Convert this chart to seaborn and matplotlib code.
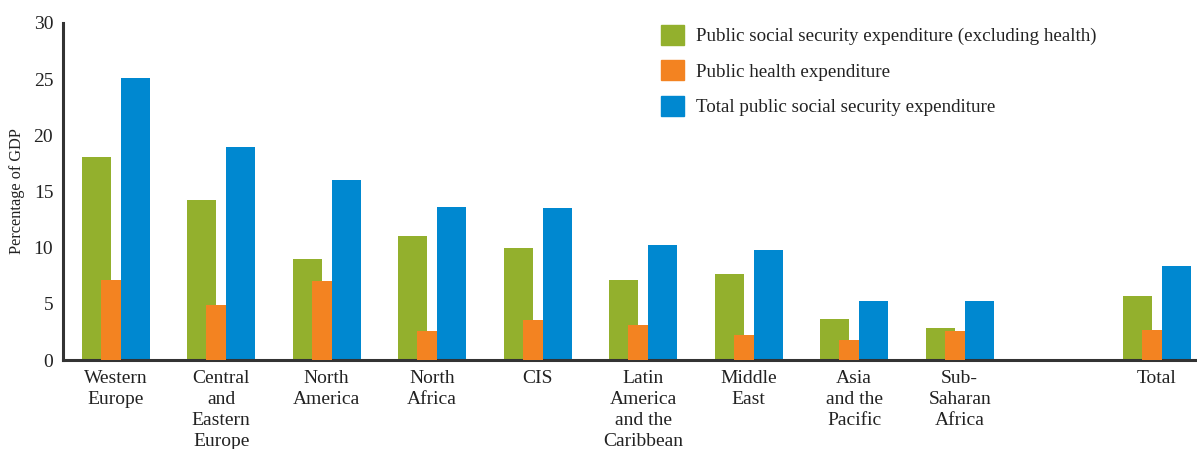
import pandas as pd
import matplotlib
matplotlib.use("Agg")
import matplotlib.pyplot as plt
import seaborn as sns

# --- data (percentage of GDP) ---
regions = ["Western\nEurope", "Central\nand\nEastern\nEurope", "North\nAmerica",
           "North\nAfrica", "CIS", "Latin\nAmerica\nand the\nCaribbean",
           "Middle\nEast", "Asia\nand the\nPacific", "Sub-\nSaharan\nAfrica", "Total"]
social_excl_health = [18.1, 14.2, 9.0, 11.0, 10.0, 7.1, 7.7, 3.7, 2.9, 5.7]
health = [7.1, 4.9, 7.0, 2.6, 3.6, 3.1, 2.2, 1.8, 2.6, 2.7]
total = [25.1, 19.0, 16.0, 13.6, 13.5, 10.2, 9.8, 5.3, 5.3, 8.4]

series_names = ["Public social security expenditure (excluding health)",
                "Public health expenditure",
                "Total public social security expenditure"]
colors = ["#93B02D", "#F38321", "#0088D0"]

# empty slot between the regions and the total
order = regions[:-1] + [" "] + regions[-1:]

df = pd.DataFrame({
    "region": regions * 3,
    "value": social_excl_health + health + total,
    "series": [s for s in series_names for _ in regions],
})

sns.set_style("white")
plt.rcParams["font.family"] = ["Liberation Serif", "DejaVu Serif"]

fig = plt.figure(figsize=(11.97, 4.49), dpi=100)
ax = fig.add_axes([0.0526, 0.198, 0.9474, 0.751])

sns.barplot(data=df, x="region", y="value", hue="series", order=order,
            hue_order=series_names, palette=colors, saturation=1,
            width=0.645, dodge=True, errorbar=None, ax=ax, legend=False)

# the total group sits a little closer than a full slot
def slot_pos(c):
    return c - 0.13 if c == len(order) - 1 else c

# green and blue bars are wide, the orange one sits over the green one
offsets = [(-0.322, 0.275), (-0.142, 0.19), (0.047, 0.275)]
for i, cont in enumerate(ax.containers):
    left, w = offsets[i]
    for p in cont.patches:
        c = round(p.get_x() + p.get_width() / 2)
        p.set_x(slot_pos(c) + left)
        p.set_width(w)
        p.set_linewidth(0)
        p.set_zorder(3 if i == 1 else 2)

ax.set_xticks([slot_pos(i) for i in range(len(order))])
ax.set_xticklabels(order)
ax.set_ylim(0, 30)
ax.set_xlim(-0.5, 10.25)
ax.set_yticks([0, 5, 10, 15, 20, 25, 30])
ax.tick_params(axis="y", length=0, pad=7, labelsize=14, colors="#222222")
ax.tick_params(axis="x", length=0, pad=7, labelsize=14, colors="#222222")
for lbl in ax.get_xticklabels():
    lbl.set_linespacing(1.32)
    lbl.set_verticalalignment("top")
ax.set_xlabel("")
ax.set_ylabel("Percentage of GDP", fontsize=11.7, color="#222222", labelpad=6)

sns.despine(ax=ax)
for side in ["left", "bottom"]:
    ax.spines[side].set_color("#333333")
    ax.spines[side].set_linewidth(2.2)

handles = [plt.Rectangle((0, 0), 1, 1, color=c) for c in colors]
ax.legend(handles, series_names, loc="upper left", bbox_to_anchor=(0.512, 1.045),
          frameon=False, fontsize=13.7, handlelength=1.25, handleheight=1.25,
          labelspacing=0.78, handletextpad=0.6, labelcolor="#222222")

fig.savefig("out.png", dpi=100)
